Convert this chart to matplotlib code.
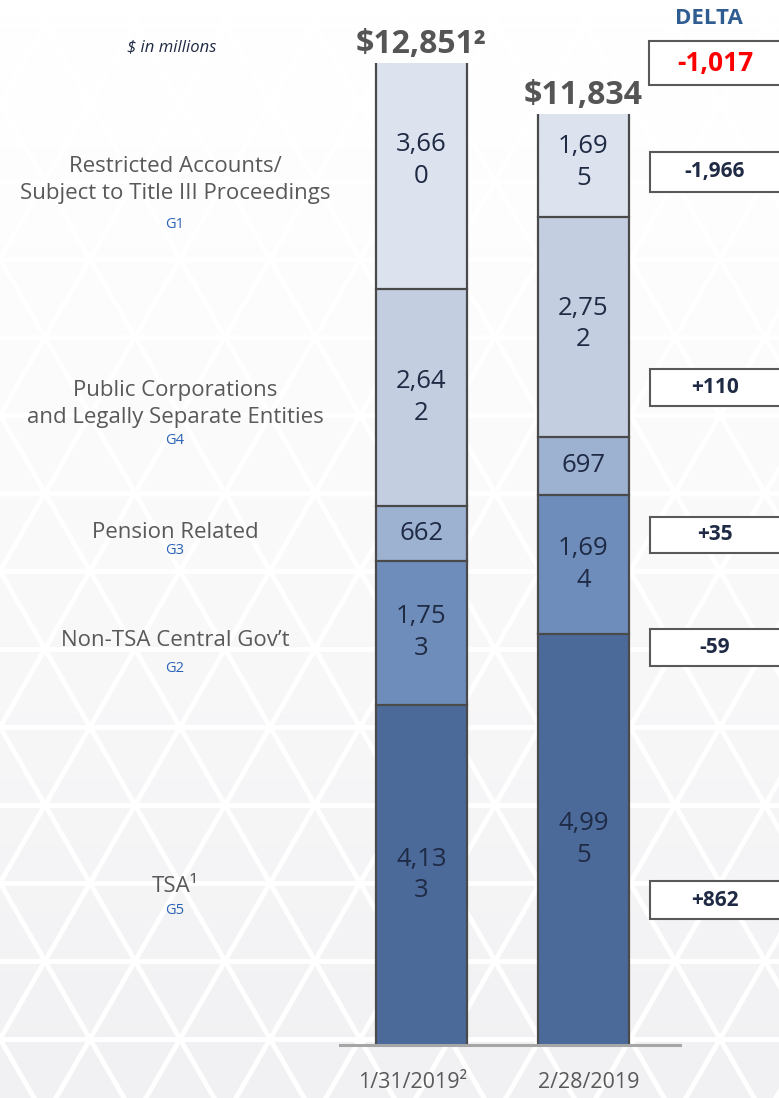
import numpy as np
import matplotlib.pyplot as plt
from matplotlib.patches import Rectangle
from matplotlib.colors import LinearSegmentedColormap

plt.rcParams['font.family'] = ['Open Sans', 'DejaVu Sans']

#%% data (bottom segment first)
dates = ['1/31/2019²', '2/28/2019']
categories = ['TSA¹', 'Non-TSA Central Gov’t', 'Pension Related',
              'Public Corporations\nand Legally Separate Entities',
              'Restricted Accounts/\nSubject to Title III Proceedings']
codes = ['G5', 'G2', 'G3', 'G4', 'G1']
jan = [4133, 1753, 662, 2642, 3660]
feb = [4995, 1694, 697, 2752, 1695]
totals = [12851, 11834]
total_sup = ['²', '']
deltas = ['+862', '-59', '+35', '+110', '-1,966']
total_delta = '-1,017'

seg_colors = ['#4B6A9A', '#6F8DBB', '#9DB1D1', '#C4CEE1', '#DCE3EE']
txt_gray = '#595959'
navy = '#1F2A44'
code_blue = '#2A62B5'

# layout in pixels (figure is 779 x 1098)
label_y = [886, 640, 533, 404, 180]
code_y = [911, 668, 550, 441, 224]
box_y = [(881, 919), (629, 666), (517, 553), (369, 406), (152, 192)]

#%% figure + background
fig = plt.figure(figsize=(7.79, 10.98), dpi=100)
bg = fig.add_axes([0, 0, 1, 1], zorder=0)
bg.set_xlim(0, 779)
bg.set_ylim(1098, 0)
bg.axis('off')

grad = np.linspace(0, 1, 200)[:, None] ** 1.3
cm = LinearSegmentedColormap.from_list('bgc', ['#FFFFFF', '#F1F1F3'])
bg.imshow(grad, cmap=cm, extent=[0, 779, 1098, 0], aspect='auto', zorder=0)
# faint triangle lattice
row_h, base = 78, 90
for k in range(-12, 6):
    bg.axhline(727 + k * row_h, color='white', lw=3.5, zorder=1)
for k in range(-15, 25):
    x0 = k * base
    yy = np.array([-50, 1150])
    bg.plot(x0 + (yy - 727) * base / 2 / row_h, yy, color='white', lw=3.5, zorder=1)
    bg.plot(x0 - (yy - 727) * base / 2 / row_h, yy, color='white', lw=3.5, zorder=1)

#%% bars on a scale that is linear low and compressed near the top
BRK, S = 9190.0, 5000.0


def fwd(v):
    v = np.asarray(v, float)
    return np.where(v <= BRK, v, BRK + S * np.log1p(np.maximum(v - BRK, 0) / S))


def inv(f):
    f = np.asarray(f, float)
    return np.where(f <= BRK, f, BRK + S * np.expm1(np.maximum(f - BRK, 0) / S))


ax = fig.add_axes([340 / 779, 53 / 1098, 340 / 779, 1045 / 1098], zorder=2)
ax.patch.set_alpha(0)
ax.set_yscale('function', functions=(fwd, inv))
ax.set_xlim(-0.503, 1.596)
ax.set_ylim(0, float(inv(12700)))
ax.axis('off')

x = np.arange(2)
w = 0.562
bottoms = np.zeros(2)
for i, (a, b) in enumerate(zip(jan, feb)):
    vals = np.array([a, b], float)
    ax.bar(x, vals, w, bottom=bottoms, color=seg_colors[i], edgecolor='none', zorder=2)
    for xi, v, b0 in zip(x, vals, bottoms):
        s = f'{int(v):,}'
        if len(s) > 4:
            s = s[:4] + '\n' + s[4:]
        ax.text(xi, b0 + v / 2, s, ha='center', va='center', fontsize=18.5,
                color=navy, linespacing=1.35, zorder=4)
    bottoms = bottoms + vals
    if i < len(jan) - 1:
        for xi, top in zip(x, bottoms):
            ax.plot([xi - w / 2, xi + w / 2], [top, top], color='#4A4A4A', lw=1.6, zorder=3)
for xi, top in zip(x, bottoms):
    ax.vlines([xi - w / 2, xi + w / 2], 0, top, color='#4A4A4A', lw=1.6, zorder=3)

ax.axhline(0, color='#A6A6A6', lw=2.2, zorder=3, clip_on=False)

for xi, top, tot, sup in zip(x, bottoms, totals, total_sup):
    ax.text(xi, top * 1.003, f'${tot:,}{sup}', ha='center', va='bottom',
            fontsize=23, fontweight='bold', color='#555555', zorder=4)

#%% left labels, x labels, deltas
bg.text(172, 47, '$ in millions', ha='center', va='center', fontsize=12,
        style='italic', color=navy, zorder=5)
for lab, code, ly, cy in zip(categories, codes, label_y, code_y):
    bg.text(175, ly, lab, ha='center', va='center', fontsize=16,
            color=txt_gray, linespacing=1.4, zorder=5)
    bg.text(175, cy, code, ha='center', va='center', fontsize=10.5,
            color=code_blue, zorder=5)

for xp, d in zip([413, 589], dates):
    bg.text(xp, 1083, d, ha='center', va='center', fontsize=15.5,
            color=txt_gray, zorder=5)

bg.text(709, 18, 'DELTA', ha='center', va='center', fontsize=16,
        fontweight='bold', color='#2F5D92', zorder=5)
bg.add_patch(Rectangle((649, 41), 160, 44, facecolor='white',
                       edgecolor='#595959', lw=1.5, zorder=4))
bg.text(715, 63, total_delta, ha='center', va='center', fontsize=19,
        fontweight='bold', color='#FF0000', zorder=5)
for d, (y0, y1) in zip(deltas, box_y):
    bg.add_patch(Rectangle((650, y0), 160, y1 - y0, facecolor='white',
                           edgecolor='#595959', lw=1.5, zorder=4))
    bg.text(715, (y0 + y1) / 2, d, ha='center', va='center', fontsize=15,
            fontweight='bold', color=navy, zorder=5)

fig.savefig('out.png', dpi=100)
